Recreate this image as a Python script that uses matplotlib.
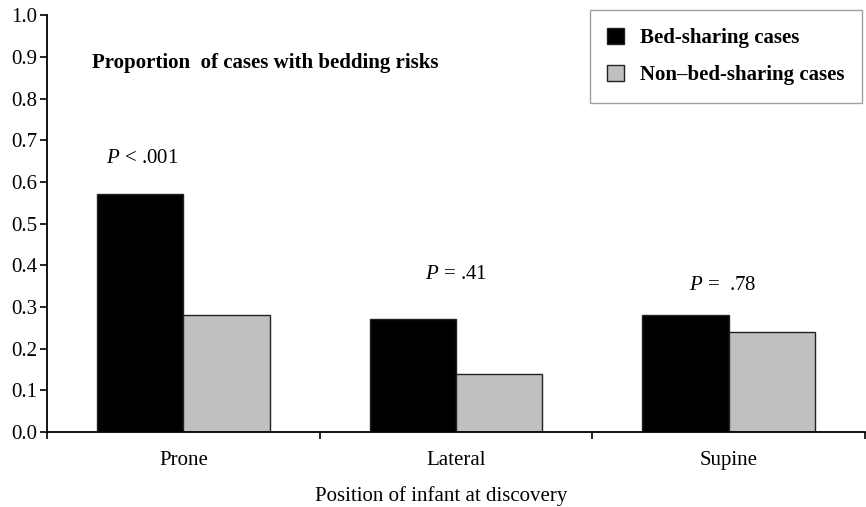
import matplotlib
matplotlib.use("Agg")
import matplotlib.pyplot as plt
import numpy as np
from matplotlib.patches import Patch

categories = ["Prone", "Lateral", "Supine"]
bed_sharing = [0.57, 0.27, 0.28]
non_bed_sharing = [0.28, 0.14, 0.24]
p_labels = [r"$\it{P}$ < .001", r"$\it{P}$ = .41", r"$\it{P}$ =  .78"]
p_label_x = [-0.15, 1.0, 1.98]
p_label_y = [0.657, 0.379, 0.352]
series_names = ["Bed-sharing cases", "Non\u2013bed-sharing cases"]
yticks = [0.0, 0.1, 0.2, 0.3, 0.4, 0.5, 0.6, 0.7, 0.8, 0.9, 1.0]

plt.rcParams['font.family'] = ['Liberation Serif', 'DejaVu Serif']
plt.rcParams['mathtext.fontset'] = 'custom'
plt.rcParams['mathtext.it'] = 'Liberation Serif:italic'
plt.rcParams['mathtext.rm'] = 'Liberation Serif'

FS = 15

fig = plt.figure(figsize=(8.66, 5.07), dpi=100)
ax = fig.add_axes([0.0543, 0.148, 0.9445, 0.822])

x = np.arange(len(categories))
w = 0.316
ax.bar(x - w / 2, bed_sharing, w, color="black", edgecolor="#222222", linewidth=1.0)
ax.bar(x + w / 2, non_bed_sharing, w, color="#c0c0c0", edgecolor="#222222", linewidth=1.0)

ax.set_xlim(-0.5, 2.5)
ax.set_ylim(0, 1.0)
ax.set_yticks(yticks)
ax.set_yticklabels([f"{v:.1f}" for v in yticks])
ax.set_xticks(x)
ax.set_xticklabels(categories)
ax.set_xticks([-0.5, 0.5, 1.5, 2.5], minor=True)
ax.tick_params(axis="x", which="major", length=0, pad=14, labelsize=FS)
ax.tick_params(axis="x", which="minor", length=5, width=1.2, direction="out")
ax.tick_params(axis="y", length=5, width=1.2, direction="out", labelsize=FS, pad=2)
for s in ["top", "right"]:
    ax.spines[s].set_visible(False)
for s in ["left", "bottom"]:
    ax.spines[s].set_linewidth(1.3)

fig.text(441 / 866, 0.012, "Position of infant at discovery", fontsize=FS,
         ha="center", va="baseline")

for xi, lab, yy in zip(p_label_x, p_labels, p_label_y):
    ax.text(xi, yy, lab, fontsize=FS, ha="center", va="center")

ax.text(0.055, 0.885, "Proportion  of cases with bedding risks", transform=ax.transAxes,
        fontsize=FS, fontweight="bold", ha="left", va="center")

handles = [Patch(facecolor="black", edgecolor="#222222"),
           Patch(facecolor="#c0c0c0", edgecolor="#222222")]
leg = ax.legend(handles, series_names, loc="upper right", bbox_to_anchor=(0.9963, 1.012),
                prop={"weight": "bold", "size": FS}, frameon=True, fancybox=False,
                edgecolor="#888888", handlelength=0.8, handleheight=0.8,
                borderpad=0.85, labelspacing=0.8, handletextpad=0.75, borderaxespad=0.0)
leg.get_frame().set_linewidth(1.0)

fig.savefig("out.png", dpi=100)
